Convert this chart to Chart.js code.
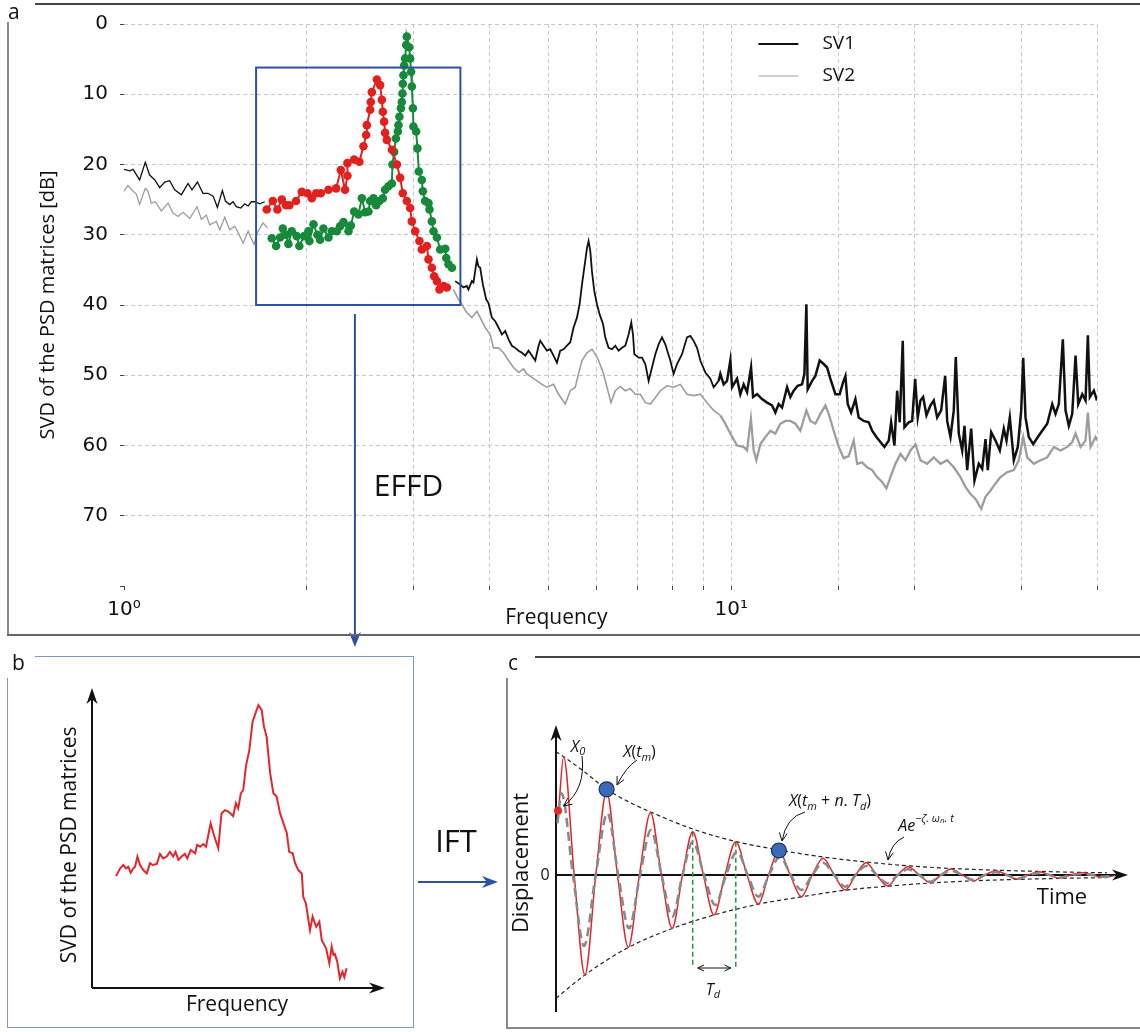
<!DOCTYPE html>
<html>
<head>
<meta charset="utf-8">
<script src="https://cdn.jsdelivr.net/npm/chart.js@4.4.1/dist/chart.umd.min.js"></script>
<style>
  body { margin: 0; background: #fff; width: 1140px; height: 1032px; position: relative; overflow: hidden; font-family: 'Open Sans', sans-serif; }
  canvas { position: absolute; }
  .ln { position: absolute; }
  .tag { position: absolute; font-size: 21px; line-height: 24px; color: #111; }
</style>
</head>
<body>
<canvas id="chartA" width="1140" height="650" style="left:0;top:0"></canvas>
<canvas id="chartB" width="500" height="382" style="left:0;top:650px"></canvas>
<canvas id="chartC" width="640" height="382" style="left:500px;top:650px"></canvas>

<!-- panel frames -->
<div class="ln" style="left:35px;top:3px;width:1105px;border-top:2px solid #444"></div>
<div class="ln" style="left:7px;top:22px;height:613px;border-left:2px solid #888"></div>
<div class="ln" style="left:7px;top:634px;width:1133px;border-top:2px solid #666"></div>

<div class="ln" style="left:35px;top:656px;width:379px;border-top:1.5px solid #8196c8"></div>
<div class="ln" style="left:413px;top:656px;height:372px;border-left:1.5px solid #8196c8"></div>
<div class="ln" style="left:7px;top:1027px;width:407px;border-top:1.5px solid #8196c8"></div>
<div class="ln" style="left:7px;top:678px;height:350px;border-left:1.5px solid #8196c8"></div>

<div class="ln" style="left:535px;top:656px;width:605px;border-top:2px solid #444"></div>
<div class="ln" style="left:506px;top:678px;height:350px;border-left:2px solid #888"></div>
<div class="ln" style="left:506px;top:1027px;width:634px;border-top:2px solid #888"></div>

<div class="tag" style="left:8px;top:-1px">a</div>
<div class="tag" style="left:12px;top:650px">b</div>
<div class="tag" style="left:508px;top:650px">c</div>

<script>
// ---------- panel a: SVD of PSD matrices ----------
const sv1Freq = [
  1.000, 1.022, 1.035, 1.061, 1.084, 1.102, 1.124, 1.145, 1.167, 1.189,
  1.212, 1.243, 1.275, 1.294, 1.321, 1.349, 1.375, 1.402, 1.425, 1.452,
  1.469, 1.493, 1.512, 1.531, 1.557, 1.581, 1.601, 1.621, 1.646, 1.673,
  1.705, 2.5,
  3.510, 3.577, 3.622, 3.669, 3.691, 3.739, 3.762, 3.811, 3.834, 3.859,
  3.899, 3.948, 3.982, 4.034, 4.085, 4.136, 4.190, 4.243, 4.297, 4.352,
  4.407, 4.463, 4.521, 4.578, 4.635, 4.695, 4.755, 4.815, 4.846, 4.907,
  4.970, 5.033, 5.096, 5.162, 5.227, 5.293, 5.362, 5.430, 5.498, 5.569,
  5.625, 5.676, 5.726, 5.785, 5.820, 5.858, 5.895, 5.947, 6.008, 6.068,
  6.147, 6.200, 6.279, 6.360, 6.440, 6.521, 6.606, 6.689, 6.774, 6.843,
  6.888, 6.922, 7.035, 7.127, 7.217, 7.308, 7.402, 7.496, 7.590, 7.688,
  7.785, 7.934, 8.034, 8.139, 8.294, 8.453, 8.560, 8.668, 8.780, 8.891,
  9.061, 9.234, 9.351, 9.530,
  9.591, 9.712, 9.838, 9.962, 10.027, 10.219, 10.347, 10.478, 10.614, 10.776,
  10.858, 11.024, 11.235, 11.450, 11.669, 11.816, 11.965, 12.120, 12.353, 12.508,
  12.666, 12.859, 13.076, 13.191, 13.291, 13.357, 13.581, 13.753, 13.979, 14.193,
  14.377, 14.558, 14.837, 15.080, 15.276, 15.410, 15.545, 15.747, 16.006, 16.208,
  16.518, 16.835, 17.053, 17.333, 17.598, 17.867, 18.161, 18.327, 18.558, 18.749,
  18.935, 19.152, 19.276, 19.593, 19.847, 20.074, 20.273, 20.482,
  20.693, 20.954, 21.274, 21.542, 21.822, 22.155, 22.494, 22.665, 22.951, 23.240,
  23.417, 23.685, 23.993, 24.203, 24.452, 24.825, 25.138, 25.552, 25.883, 26.210,
  26.439, 26.782, 27.223, 27.670, 28.093, 28.383, 28.740, 29.179, 29.626, 30.010,
  30.239, 30.504, 30.888, 31.408, 31.961, 32.499, 33.121, 33.755, 34.181, 34.611,
  35.140, 35.502, 35.949, 36.416, 36.874, 37.254, 37.824, 38.300, 38.636, 38.930,
  39.526, 40.0
];
const sv1Db = [
  20.7, 20.9, 20.7, 22.2, 19.7, 21.5, 22.2, 23.3, 22.5, 22.3,
  23.6, 24.3, 22.7, 23.6, 22.5, 24.1, 24.1, 24.5, 26.1, 23.7,
  25.2, 25.7, 25.3, 26.0, 26.2, 25.6, 25.9, 25.3, 25.3, 25.6,
  25.3, null,
  36.6, 37.1, 37.5, 37.3, 37.8, 36.6, 36.8, 33.5, 34.5, 34.7,
  37.1, 39.2, 39.7, 41.8, 42.3, 43.2, 44.2, 43.7, 44.9, 45.8,
  46.1, 46.5, 46.8, 47.2, 46.5, 47.2, 47.9, 45.8, 45.1, 45.8,
  46.5, 46.3, 47.2, 48.2, 46.5, 46.3, 45.8, 45.3, 43.2, 41.8,
  39.9, 37.1, 34.7, 31.9, 30.9, 32.3, 35.2, 38.0, 39.9, 41.3,
  42.7, 44.6, 46.1, 46.3, 45.8, 46.5, 46.1, 45.8, 44.2, 42.5,
  44.2, 47.0, 47.5, 47.5, 48.4, 50.8, 48.9, 47.0, 45.6, 44.6,
  45.6, 47.9, 49.8, 48.4, 47.0, 44.6, 44.4, 45.1, 46.1, 47.9,
  49.6, 50.5, 51.7, 50.8,
  49.8, 51.3, 50.8, 47.9, 51.7, 50.5, 52.7, 51.3, 52.4, 48.9,
  53.1, 52.7, 53.4, 53.9, 54.3, 55.3, 54.1, 54.6, 51.7, 53.1,
  52.2, 51.5, 51.3, 49.8, 39.9, 52.0, 50.8, 50.1, 47.9, 48.4,
  48.9, 50.5, 52.7, 52.7, 51.0, 50.1, 54.1, 55.3, 53.4, 56.0,
  56.5, 56.7, 57.9, 58.8, 59.5, 60.2, 59.3, 56.7, 60.0, 52.2,
  56.7, 45.1, 57.4, 56.7, 56.5, 50.5, 56.0, 53.6,
  53.1, 55.7, 54.3, 53.6, 56.0, 55.0, 50.1, 56.5, 58.8, 55.0,
  47.4, 58.3, 60.7, 57.2, 63.5, 57.6, 65.0, 62.6, 63.3, 59.1,
  63.5, 58.1, 59.3, 60.7, 57.6, 59.3, 56.0, 62.1, 60.2, 55.0,
  47.5, 56.0, 58.8, 59.8, 58.8, 57.9, 56.9, 54.1, 55.5, 54.1,
  44.9, 55.0, 57.2, 55.5, 47.2, 54.1, 52.7, 53.6, 44.3, 53.1,
  52.2, 53.6
];
const sv2Freq = [
  1.000, 1.015, 1.035, 1.048, 1.061, 1.084, 1.095, 1.109, 1.126, 1.152,
  1.182, 1.204, 1.227, 1.251, 1.283, 1.319, 1.341, 1.366, 1.384, 1.419,
  1.438, 1.465, 1.493, 1.522, 1.541, 1.571, 1.601, 1.637, 1.658, 1.694,
  1.722, 2.5,
  3.487, 3.554, 3.600, 3.669, 3.739, 3.811, 3.859, 3.933, 4.008, 4.059,
  4.136, 4.216, 4.297, 4.379, 4.463, 4.548, 4.607, 4.695, 4.786, 4.877,
  4.970, 5.096, 5.194, 5.328, 5.430, 5.533, 5.603, 5.676, 5.785, 5.895,
  5.970, 6.045, 6.161, 6.241, 6.336, 6.440, 6.564, 6.689, 6.817, 6.948,
  7.081, 7.217, 7.355, 7.496, 7.639, 7.836, 8.034, 8.241, 8.453, 8.668,
  8.891, 9.119, 9.351,
  9.591, 9.775, 9.962, 10.219, 10.478, 10.614, 10.769, 10.883, 10.995, 11.163,
  11.377, 11.595, 11.816, 12.043, 12.273, 12.508, 12.748, 12.992, 13.291, 13.494,
  13.753, 14.016, 14.285, 14.465, 14.742, 15.024, 15.311, 15.605, 15.903, 16.110,
  16.418, 16.733, 17.053, 17.379, 17.713, 18.004, 18.279, 18.629, 18.986, 19.349,
  19.720, 20.097, 20.482, 21.009, 21.542, 22.096, 22.665, 23.240, 23.838, 24.295,
  24.760, 25.234, 25.785, 26.210, 26.711, 27.223, 27.744, 28.458, 29.179, 29.738,
  30.239, 30.701, 31.480, 32.290, 33.121, 33.961, 34.835, 35.732, 36.416, 36.874,
  37.581, 38.300, 38.636, 39.033, 39.783, 40.0
];
const sv2Db = [
  23.8, 23.0, 23.8, 24.2, 25.7, 23.4, 23.8, 25.5, 25.3, 26.6,
  25.5, 26.9, 27.4, 26.8, 27.7, 26.0, 27.8, 27.2, 28.6, 28.1,
  29.3, 27.5, 29.3, 28.8, 29.7, 31.2, 29.5, 31.4, 29.7, 28.3,
  29.0, null,
  37.8, 39.2, 39.9, 41.1, 41.8, 40.9, 41.8, 43.2, 44.2, 46.1,
  46.1, 46.8, 47.9, 48.9, 49.6, 49.1, 49.8, 50.3, 50.8, 51.3,
  51.7, 51.3, 52.7, 54.1, 52.2, 51.7, 49.8, 47.9, 46.8, 46.3,
  47.0, 47.9, 49.8, 51.7, 53.9, 52.2, 51.6, 52.2, 51.9, 52.7,
  52.7, 53.9, 54.1, 53.2, 52.2, 51.5, 51.7, 51.3, 52.7, 52.9,
  52.7, 53.9, 55.0,
  55.7, 56.9, 58.3, 60.0, 60.2, 60.7, 56.2, 60.7, 62.1, 59.8,
  58.8, 57.9, 58.3, 56.9, 56.5, 56.5, 56.9, 57.9, 55.0, 56.5,
  56.9, 55.5, 54.3, 55.5, 57.9, 60.2, 61.8, 61.5, 59.3, 62.6,
  62.4, 63.1, 63.5, 64.5, 65.2, 66.1, 64.5, 62.6, 61.2, 62.1,
  60.7, 59.8, 62.1, 62.6, 61.7, 62.6, 62.1, 63.1, 64.5, 65.9,
  66.9, 67.6, 69.0, 67.3, 66.4, 65.4, 64.5, 63.8, 63.5, 62.1,
  58.8, 61.7, 62.6, 62.1, 61.7, 60.2, 60.7, 60.2, 59.5, 58.3,
  60.2, 59.3, 55.3, 60.2, 58.8, 59.3
];
const redFreq = [
  1.718, 1.758, 1.789, 1.819, 1.849, 1.872, 1.920, 1.962, 2.004, 2.038,
  2.072, 2.109, 2.171, 2.235, 2.275, 2.312, 2.333, 2.333, 2.393, 2.441,
  2.479, 2.504, 2.511, 2.543, 2.549, 2.559, 2.608, 2.641, 2.658, 2.668,
  2.681, 2.691, 2.709, 2.761, 2.814, 2.849, 2.878, 2.922, 2.959, 2.978,
  3.016, 3.065, 3.093, 3.153, 3.172, 3.213, 3.241, 3.275, 3.307, 3.358,
  3.401
];
const redDb = [
  26.4, 25.2, 26.4, 25.0, 25.8, 25.8, 25.2, 23.9, 24.1, 24.8,
  24.1, 24.1, 23.6, 23.4, 20.8, 23.6, 21.6, 19.8, 19.3, 19.6,
  17.4, 15.8, 14.4, 12.2, 11.1, 9.7, 7.9, 8.7, 10.8, 12.5,
  13.9, 15.5, 16.5, 17.9, 20.0, 21.9, 24.1, 25.2, 26.2, 28.1,
  29.5, 30.9, 32.1, 31.6, 33.5, 34.7, 35.9, 36.6, 37.8, 37.3,
  37.5
];
const greenFreq = [
  1.751, 1.780, 1.807, 1.826, 1.849, 1.865, 1.889, 1.925, 1.944, 1.980,
  2.012, 2.020, 2.051, 2.082, 2.103, 2.130, 2.171, 2.199, 2.241, 2.269,
  2.298, 2.342, 2.363, 2.393, 2.432, 2.464, 2.495, 2.526, 2.543, 2.575,
  2.601, 2.634, 2.668, 2.691, 2.725, 2.761, 2.767, 2.785, 2.803, 2.824,
  2.831, 2.841, 2.857, 2.867, 2.874, 2.878, 2.885, 2.893, 2.903, 2.915,
  2.922, 2.948, 2.959, 2.970, 2.978, 2.990, 2.996, 3.027, 3.042, 3.058,
  3.093, 3.105, 3.132, 3.172, 3.184, 3.213, 3.233, 3.275, 3.316, 3.380,
  3.393, 3.422, 3.467
];
const greenDb = [
  30.5, 31.6, 30.4, 29.1, 30.0, 31.3, 29.5, 30.2, 31.6, 30.2,
  29.5, 30.9, 28.5, 30.0, 30.7, 29.1, 30.4, 29.5, 29.5, 28.8,
  28.2, 29.5, 28.7, 26.7, 27.1, 24.8, 26.8, 26.7, 25.2, 24.8,
  25.8, 25.2, 24.8, 23.6, 23.1, 22.7, 20.0, 18.2, 16.3, 15.3,
  14.4, 13.2, 12.0, 11.1, 9.9, 8.5, 7.3, 5.9, 4.9, 3.0,
  1.8, 3.3, 4.9, 6.8, 8.9, 12.0, 14.6, 15.3, 17.7, 21.0,
  22.2, 23.8, 25.2, 25.5, 26.4, 28.1, 29.5, 30.4, 32.1, 32.0,
  33.3, 34.2, 34.7
];
const decadeTicks = [1, 10];
const decadeLabels = ['10⁰', '10¹'];
const dbTickStep = 10;
const selFreq = [1.65, 3.58];   // EFFD selection box
const selDb = [6.2, 40];

// ---------- panel b: selected SVD peak ----------
const bFreq = [
  8.2, 9.6, 10.7, 11.6, 12.4, 13.2, 14.1, 14.7, 15.5, 16.4,
  17.5, 18.7, 19.8, 20.7, 22.1, 23.2, 24.3, 25.5, 26.6, 27.7,
  28.5, 29.5, 30.6, 31.7, 32.5, 33.7, 35.2, 35.9, 36.9, 38.0,
  38.9, 40.5, 41.6, 43.1, 44.2, 45.4, 46.5, 48.2, 49.1, 49.9,
  50.8, 51.6, 52.6, 53.7, 54.8, 56.2, 56.8, 57.9, 58.7, 59.6,
  60.8, 61.9, 63.0, 64.2, 66.5, 67.3, 68.5, 69.3, 70.4, 71.6,
  72.1, 73.0, 74.4, 75.3, 76.5, 77.6, 78.4, 79.9, 81.0, 81.8,
  82.4, 82.9, 83.7, 84.6, 85.5, 86.1, 86.9
];
const bSvd = [
  37.3, 39.9, 41.0, 39.9, 40.4, 38.4, 39.9, 40.4, 43.8, 41.0,
  39.3, 38.2, 41.6, 41.0, 41.3, 44.7, 43.2, 43.8, 45.4, 43.8,
  45.4, 42.7, 43.8, 44.7, 43.2, 46.0, 44.9, 47.7, 47.1, 48.0,
  47.1, 54.9, 51.0, 46.6, 58.2, 59.3, 58.8, 57.3, 61.6, 59.9,
  64.9, 66.0, 74.3, 79.3, 88.8, 92.7, 94.3, 92.7, 87.1, 83.8,
  71.6, 64.9, 63.8, 58.2, 51.6, 45.4, 44.9, 41.6, 39.3, 38.2,
  30.4, 28.2, 19.3, 23.8, 20.4, 22.1, 16.0, 13.2, 8.2, 13.8,
  11.0, 11.3, 8.8, 3.2, 5.4, 3.6, 6.6
];

// ---------- panel c: free decay after IFT ----------
const redTime = [
  0.026, 0.076, 0.182, 0.289, 0.398, 0.506, 0.615, 0.723, 0.834, 0.945,
  1.054, 1.162, 1.265, 1.367, 1.474, 1.580, 1.689, 1.798, 1.910, 2.023,
  2.126, 2.229, 2.342, 2.454, 2.563, 2.671, 2.782, 2.892, 2.997, 3.101,
  3.208, 3.315, 3.418, 3.520, 3.633, 3.745, 3.848, 3.950, 4.063, 4.176,
  4.288, 4.400, 4.507, 4.614, 4.723, 4.832, 4.935, 5.037, 5.150, 5.262,
  5.365, 5.467, 5.570
];
const redDisp = [
  0.643, 1.183, 0, -1.0, 0, 0.833, 0, -0.723, 0, 0.623,
  0, -0.533, 0, 0.433, 0, -0.40, 0, 0.333, 0, -0.29,
  0, 0.243, 0, -0.217, 0, 0.167, 0, -0.15, 0, 0.123,
  0, -0.11, 0, 0.083, 0, -0.077, 0, 0.06, 0, -0.057,
  0, 0.043, 0, -0.043, 0, 0.033, 0, -0.033, 0, 0.023,
  0, -0.023, -0.01
];
const grayTime = [
  0.014, 0.055, 0.170, 0.280, 0.397, 0.514, 0.622, 0.730, 0.840, 0.950,
  1.056, 1.162, 1.265, 1.367, 1.480, 1.593, 1.700, 1.810, 1.917, 2.023,
  2.130, 2.240, 2.347, 2.454, 2.563, 2.671, 2.782, 2.892, 2.997, 3.101,
  3.208, 3.315, 3.418, 3.520, 3.633, 3.745, 3.848, 3.950, 4.063, 4.176,
  4.288, 4.400, 4.507, 4.614, 4.723, 4.832, 4.935, 5.037, 5.150, 5.262,
  5.365, 5.467, 5.590
];
const grayDisp = [
  0.517, 0.817, 0, -0.71, 0, 0.617, 0, -0.533, 0, 0.45,
  0, -0.417, 0, 0.333, 0, -0.30, 0, 0.233, 0, -0.217,
  0, 0.183, 0, -0.15, 0, 0.123, 0, -0.117, 0, 0.09,
  0, -0.083, 0, 0.057, 0, -0.067, 0, 0.043, 0, -0.05,
  0, 0.027, 0, -0.037, 0, 0.017, 0, -0.027, 0, 0.01,
  0, -0.017, -0.01
];
const envUpTime = [0.0, 0.076, 0.30, 0.506, 0.75, 0.945, 1.367, 1.798, 2.229, 2.671, 3.101, 3.52, 3.95, 4.40, 4.832, 5.262, 5.51];
const envUp = [1.233, 1.183, 1.02, 0.857, 0.72, 0.63, 0.46, 0.335, 0.25, 0.18, 0.13, 0.092, 0.066, 0.048, 0.036, 0.026, 0.022];
const envLowTime = [0.0, 0.289, 0.723, 1.162, 1.58, 2.023, 2.454, 2.892, 3.315, 3.745, 4.176, 4.614, 5.037, 5.51];
const envLow = [-1.233, -1.0, -0.725, -0.535, -0.40, -0.292, -0.218, -0.152, -0.112, -0.08, -0.058, -0.044, -0.034, -0.026];
const peakTime = [0.506, 2.229];      // X(tm) and X(tm + n.Td)
const peakDisp = [0.857, 0.245];
const startTime = [0.02];             // X0
const startDisp = [0.643];
const tdTime = [1.367, 1.798];        // one damped period Td
const tdTop = [0.433, 0.333];
const tdBottom = -0.92;

const pair = (xs, ys) => xs.map((v, i) => ({ x: v, y: ys[i] }));

Chart.defaults.font.family = "'DejaVu Sans', sans-serif";
Chart.defaults.color = '#111';
const OPEN = "'Open Sans', sans-serif";

function arrowHead(ctx, x, y, ang, len, half, color) {
  ctx.save();
  ctx.translate(x, y);
  ctx.rotate(ang);
  ctx.beginPath();
  ctx.moveTo(0, 0);
  ctx.lineTo(-len, -half);
  ctx.lineTo(-len * 0.7, 0);
  ctx.lineTo(-len, half);
  ctx.closePath();
  ctx.fillStyle = color;
  ctx.fill();
  ctx.restore();
}

function openHead(ctx, x, y, ang, len) {
  ctx.beginPath();
  ctx.moveTo(x - len * Math.cos(ang - 0.45), y - len * Math.sin(ang - 0.45));
  ctx.lineTo(x, y);
  ctx.lineTo(x - len * Math.cos(ang + 0.45), y - len * Math.sin(ang + 0.45));
  ctx.stroke();
}

// text with sub/superscripts, centred on (cx, cy)
function richText(ctx, cx, cy, parts, size) {
  const small = Math.round(size * 0.68);
  const fontOf = k => k === 'n' ? `${size}px ${OPEN}` : k === 'i' ? `italic ${size}px ${OPEN}`
    : k === 'ss' ? `italic ${Math.round(size * 0.5)}px ${OPEN}` : `italic ${small}px ${OPEN}`;
  const shift = { n: 0, i: 0, sub: size * 0.32, sup: -size * 0.45, ss: -size * 0.3 };
  let total = 0;
  parts.forEach(([t, k]) => { ctx.font = fontOf(k); total += ctx.measureText(t).width; });
  let x = cx - total / 2;
  ctx.textAlign = 'left';
  ctx.textBaseline = 'middle';
  parts.forEach(([t, k]) => {
    ctx.font = fontOf(k);
    ctx.fillText(t, x, cy + shift[k]);
    x += ctx.measureText(t).width;
  });
}

// dense, noisy high-frequency part of the spectra reads as a thicker trace
const bandWidth = (thin, mid, thick) => c => c.p0.parsed.x < 2 ? thin : c.p0.parsed.x < 9.5 ? mid : thick;

// ---------- chart a ----------
const panelAOverlay = {
  id: 'panelAOverlay',
  afterDatasetsDraw(chart) {
    const { ctx, chartArea: area, scales: { x, y } } = chart;
    ctx.save();
    // selection box
    const bx0 = x.getPixelForValue(selFreq[0]), bx1 = x.getPixelForValue(selFreq[1]);
    const by0 = y.getPixelForValue(selDb[0]), by1 = y.getPixelForValue(selDb[1]);
    ctx.strokeStyle = '#2c52a3';
    ctx.lineWidth = 2;
    ctx.strokeRect(bx0, by0, bx1 - bx0, by1 - by0);
    // EFFD arrow down to panel b
    const ax = x.getPixelForValue(2.4);
    ctx.beginPath();
    ctx.moveTo(ax, by1 + 9);
    ctx.lineTo(ax, chart.height - 14);
    ctx.stroke();
    arrowHead(ctx, ax, chart.height - 3, Math.PI / 2, 15, 6, '#2c52a3');
    ctx.fillStyle = '#111';
    ctx.font = `30px ${OPEN}`;
    ctx.textAlign = 'center';
    ctx.textBaseline = 'middle';
    ctx.fillText('EFFD', x.getPixelForValue(2.94), y.getPixelForValue(66));
    // x title
    ctx.font = `21px ${OPEN}`;
    ctx.fillText('Frequency', x.getPixelForValue(5.15), area.bottom + 32);
    // legend
    const lx = x.getPixelForValue(11.08);
    const rows = [chart.data.datasets[2], chart.data.datasets[3]];
    rows.forEach((ds, i) => {
      const ly = area.top + 20 + i * 32;
      ctx.strokeStyle = ds.borderColor;
      ctx.lineWidth = i === 0 ? 2 : 1.2;
      ctx.beginPath();
      ctx.moveTo(lx, ly);
      ctx.lineTo(lx + 40, ly);
      ctx.stroke();
      ctx.fillStyle = '#111';
      ctx.font = `19px ${OPEN}`;
      ctx.textAlign = 'left';
      ctx.fillText(ds.label, lx + 64, ly);
    });
    ctx.restore();
  }
};

const gridColor = skip => c => (c.tick && c.tick.value === skip) ? 'rgba(0,0,0,0)' : '#c9c9c9';

new Chart(document.getElementById('chartA'), {
  type: 'line',
  data: {
    datasets: [
      { label: 'Mode 1', data: pair(redFreq, redDb), borderColor: '#e2211f', backgroundColor: '#e2211f',
        borderWidth: 2, pointRadius: 4.3, pointBorderWidth: 0, order: 0 },
      { label: 'Mode 2', data: pair(greenFreq, greenDb), borderColor: '#168a3a', backgroundColor: '#168a3a',
        borderWidth: 2, pointRadius: 4.3, pointBorderWidth: 0, order: 1 },
      { label: 'SV1', data: pair(sv1Freq, sv1Db), borderColor: '#111', borderWidth: 1.6, pointRadius: 0, order: 2,
        segment: { borderWidth: bandWidth(1.3, 1.8, 2.5) } },
      { label: 'SV2', data: pair(sv2Freq, sv2Db), borderColor: '#9d9d9d', borderWidth: 1.5, pointRadius: 0, order: 3,
        segment: { borderWidth: bandWidth(1.3, 1.6, 2.3) } }
    ]
  },
  options: {
    responsive: false,
    devicePixelRatio: 1,
    animation: false,
    spanGaps: false,
    layout: { padding: { left: 0, top: 22, right: 43, bottom: 0 } },
    plugins: { legend: { display: false }, tooltip: { enabled: false } },
    scales: {
      x: {
        type: 'logarithmic', min: 1, max: 40,
        afterFit: s => { s.height = 64; },
        grid: { color: gridColor(1), lineWidth: 1, tickLength: 4, tickColor: '#444', tickBorderDash: [] },
        border: { display: false, dash: [4, 3] },
        ticks: {
          autoSkip: false, maxRotation: 0, padding: 8, font: { size: 20 },
          callback: v => { const i = decadeTicks.indexOf(v); return i >= 0 ? decadeLabels[i] : ''; }
        }
      },
      y: {
        reverse: true, min: 0, max: 80,
        afterFit: s => { s.width = 124; },
        grid: { color: gridColor(80), lineWidth: 1, tickLength: 4, tickColor: '#444', tickBorderDash: [] },
        border: { display: false, dash: [4, 3] },
        ticks: { stepSize: dbTickStep, padding: 12, font: { size: 20 }, callback: v => v === 80 ? '' : v },
        title: { display: true, text: 'SVD of the PSD matrices [dB]', font: { family: OPEN, size: 20 }, padding: { top: 36 } }
      }
    }
  },
  plugins: [panelAOverlay]
});

// ---------- chart b ----------
const panelBOverlay = {
  id: 'panelBOverlay',
  afterDraw(chart) {
    const { ctx, chartArea: a, scales: { x, y } } = chart;
    ctx.save();
    ctx.strokeStyle = '#111';
    ctx.lineWidth = 2;
    ctx.beginPath();
    ctx.moveTo(a.left, a.bottom);
    ctx.lineTo(a.left, a.top + 8);
    ctx.moveTo(a.left, a.bottom);
    ctx.lineTo(a.right - 8, a.bottom);
    ctx.stroke();
    arrowHead(ctx, a.left, a.top, -Math.PI / 2, 16, 5.5, '#111');
    arrowHead(ctx, a.right, a.bottom, 0, 16, 5.5, '#111');
    ctx.fillStyle = '#111';
    ctx.font = `21px ${OPEN}`;
    ctx.textAlign = 'center';
    ctx.textBaseline = 'middle';
    ctx.fillText('Frequency', x.getPixelForValue(49.5), a.bottom + 17);
    ctx.save();
    ctx.translate(a.left - 22, y.getPixelForValue(47.7));
    ctx.rotate(-Math.PI / 2);
    ctx.fillText('SVD of the PSD matrices', 0, 0);
    ctx.restore();
    // IFT arrow towards panel c
    const iy = y.getPixelForValue(35.3);
    ctx.strokeStyle = '#2c52a3';
    ctx.beginPath();
    ctx.moveTo(a.right + 33, iy);
    ctx.lineTo(chart.width - 12, iy);
    ctx.stroke();
    arrowHead(ctx, chart.width - 2, iy, 0, 16, 6, '#2c52a3');
    ctx.font = `31px ${OPEN}`;
    ctx.fillText('IFT', a.right + 71, y.getPixelForValue(48.3));
    ctx.restore();
  }
};

new Chart(document.getElementById('chartB'), {
  type: 'line',
  data: {
    datasets: [
      { label: 'SVD peak', data: pair(bFreq, bSvd), borderColor: '#e3262b', borderWidth: 2, pointRadius: 0 }
    ]
  },
  options: {
    responsive: false,
    devicePixelRatio: 1,
    animation: false,
    layout: { padding: { left: 92, right: 115, top: 38, bottom: 44 } },
    plugins: { legend: { display: false }, tooltip: { enabled: false } },
    scales: {
      x: { type: 'linear', display: false, min: 0, max: 100 },
      y: { display: false, min: 0, max: 100 }
    }
  },
  plugins: [panelBOverlay]
});

// ---------- chart c ----------
const panelCOverlay = {
  id: 'panelCOverlay',
  beforeDatasetsDraw(chart) {
    const { ctx, chartArea: a, scales: { y } } = chart;
    const y0 = y.getPixelForValue(0);
    ctx.save();
    ctx.strokeStyle = '#111';
    ctx.lineWidth = 2;
    ctx.beginPath();
    ctx.moveTo(a.left, a.bottom);
    ctx.lineTo(a.left, a.top + 8);
    ctx.moveTo(a.left, y0);
    ctx.lineTo(a.right - 8, y0);
    ctx.stroke();
    arrowHead(ctx, a.left, a.top, -Math.PI / 2, 16, 5.5, '#111');
    arrowHead(ctx, a.right, y0, 0, 16, 5.5, '#111');
    ctx.restore();
  },
  afterDatasetsDraw(chart) {
    const { ctx, chartArea: a, scales: { x, y } } = chart;
    const px = t => x.getPixelForValue(t), py = v => y.getPixelForValue(v);
    ctx.save();
    ctx.fillStyle = '#111';
    ctx.textAlign = 'center';
    ctx.textBaseline = 'middle';
    ctx.font = `16px ${OPEN}`;
    ctx.fillText('0', a.left - 11, py(0));
    ctx.font = `22px ${OPEN}`;
    ctx.fillText('Time', px(5.06), py(-0.23));
    ctx.save();
    ctx.translate(a.left - 34, py(0.12));
    ctx.rotate(-Math.PI / 2);
    ctx.fillText('Displacement', 0, 0);
    ctx.restore();

    richText(ctx, px(0.22), py(1.28), [['X', 'i'], ['0', 'sub']], 16);
    richText(ctx, px(0.835), py(1.225), [['X', 'i'], ['(', 'n'], ['t', 'i'], ['m', 'sub'], [')', 'n']], 16);
    richText(ctx, px(2.74), py(0.735), [['X', 'i'], ['(', 'n'], ['t', 'i'], ['m', 'sub'], [' + ', 'n'], ['n', 'i'],
      ['. ', 'n'], ['T', 'i'], ['d', 'sub'], [')', 'n']], 16);
    richText(ctx, px(3.70), py(0.49), [['A', 'i'], ['e', 'i'], ['−ζ. ω', 'sup'], ['n', 'ss'], ['. t', 'sup']], 16);
    richText(ctx, px(1.57), py(-1.15), [['T', 'i'], ['d', 'sub']], 16);

    // pointer arrows
    ctx.strokeStyle = '#111';
    ctx.lineWidth = 1;
    const pointers = [
      [0.26, 1.19, 0.30, 0.86, 0.076, 0.69],
      [0.81, 1.15, 0.70, 1.08, 0.61, 0.90],
      [2.49, 0.63, 2.30, 0.58, 2.26, 0.34],
      [3.48, 0.38, 3.35, 0.32, 3.32, 0.15]
    ];
    pointers.forEach(([t0, v0, tc, vc, t1, v1]) => {
      ctx.beginPath();
      ctx.moveTo(px(t0), py(v0));
      ctx.quadraticCurveTo(px(tc), py(vc), px(t1), py(v1));
      ctx.stroke();
      openHead(ctx, px(t1), py(v1), Math.atan2(py(v1) - py(vc), px(t1) - px(tc)), 9);
    });
    // Td span
    const dy = py(-0.93), dx0 = px(tdTime[0]) + 5, dx1 = px(tdTime[1]) - 5;
    ctx.beginPath();
    ctx.moveTo(dx0, dy);
    ctx.lineTo(dx1, dy);
    ctx.stroke();
    openHead(ctx, dx0, dy, Math.PI, 7);
    openHead(ctx, dx1, dy, 0, 7);
    ctx.restore();
  }
};

new Chart(document.getElementById('chartC'), {
  type: 'line',
  data: {
    datasets: [
      { label: 'X(tm)', data: pair(peakTime, peakDisp), showLine: false, pointRadius: 7.5,
        pointBackgroundColor: '#3a6ab8', pointBorderColor: '#1c2f5c', pointBorderWidth: 1.2, order: 0 },
      { label: 'X0', data: pair(startTime, startDisp), showLine: false, pointRadius: 4,
        pointBackgroundColor: '#e3262b', pointBorderWidth: 0, clip: false, order: 1 },
      { label: 'Fitted', data: pair(grayTime, grayDisp), borderColor: '#8a8a8a', borderWidth: 2.6,
        borderDash: [9, 5], cubicInterpolationMode: 'monotone', pointRadius: 0, order: 2 },
      { label: 'Free decay', data: pair(redTime, redDisp), borderColor: '#e3262b', borderWidth: 1.5,
        cubicInterpolationMode: 'monotone', pointRadius: 0, order: 3 },
      { label: 'Td start', data: [{ x: tdTime[0], y: tdTop[0] }, { x: tdTime[0], y: tdBottom }],
        borderColor: '#1f9a3c', borderWidth: 1.5, borderDash: [5, 3], pointRadius: 0, order: 4 },
      { label: 'Td end', data: [{ x: tdTime[1], y: tdTop[1] }, { x: tdTime[1], y: tdBottom }],
        borderColor: '#1f9a3c', borderWidth: 1.5, borderDash: [5, 3], pointRadius: 0, order: 4 },
      { label: 'Envelope +', data: pair(envUpTime, envUp), borderColor: '#222', borderWidth: 1.2,
        borderDash: [4, 3], cubicInterpolationMode: 'monotone', pointRadius: 0, order: 5 },
      { label: 'Envelope −', data: pair(envLowTime, envLow), borderColor: '#222', borderWidth: 1.2,
        borderDash: [4, 3], cubicInterpolationMode: 'monotone', pointRadius: 0, order: 5 }
    ]
  },
  options: {
    responsive: false,
    devicePixelRatio: 1,
    animation: false,
    layout: { padding: { left: 56, right: 12, top: 75, bottom: 20 } },
    plugins: { legend: { display: false }, tooltip: { enabled: false } },
    scales: {
      x: { type: 'linear', display: false, min: 0, max: 5.72 },
      y: { display: false, min: -1.37, max: 1.5 }
    }
  },
  plugins: [panelCOverlay]
});
</script>
</body>
</html>
